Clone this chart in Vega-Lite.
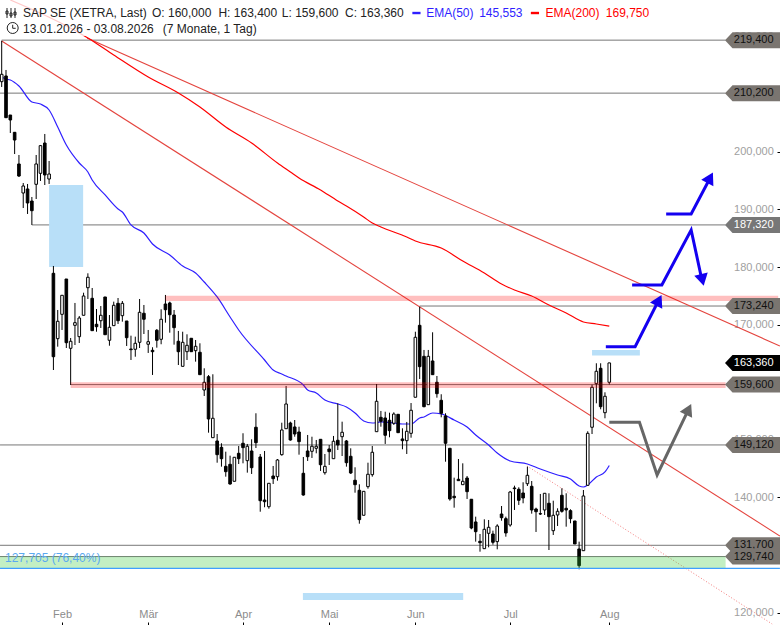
{
"$schema":"https://vega.github.io/schema/vega-lite/v6.json",
"autosize":{"type":"none"},"padding":0,"width":780,"height":625,"background":"#ffffff",
"config":{"view":{"stroke":null},"font":"Liberation Sans","text":{"font":"Liberation Sans"}},
"datasets":{
"candles":[
{"i":0,"o":212.19,"h":219.30,"l":211.27,"c":213.47},{"i":1,"o":213.18,"h":214.22,"l":205.88,"c":205.94},{"i":2,"o":206.40,"h":206.40,"l":203.28,"c":205.54},{"i":3,"o":203.40,"h":203.45,"l":199.63,"c":202.06},{"i":4,"o":197.90,"h":199.46,"l":195.64,"c":195.81},{"i":5,"o":192.86,"h":194.60,"l":190.26,"c":194.08},{"i":6,"o":193.56,"h":194.43,"l":189.22,"c":191.13},{"i":7,"o":191.47,"h":192.17,"l":187.31,"c":189.79},{"i":8,"o":194.37,"h":199.46,"l":191.82,"c":197.90},{"i":9,"o":196.28,"h":201.20,"l":194.95,"c":201.08},
{"i":10,"o":201.54,"h":203.11,"l":194.25,"c":195.99},{"i":11,"o":195.29,"h":198.42,"l":194.43,"c":196.16},{"i":12,"o":178.92,"h":180.19,"l":162.13,"c":164.44},{"i":13,"o":167.57,"h":172.55,"l":166.18,"c":170.59},{"i":14,"o":171.80,"h":175.16,"l":169.08,"c":175.10},{"i":15,"o":177.93,"h":177.93,"l":165.95,"c":166.87},{"i":16,"o":165.90,"h":167.69,"l":159.53,"c":167.12},{"i":17,"o":169.89,"h":173.77,"l":166.47,"c":170.35},{"i":18,"o":167.92,"h":171.51,"l":166.82,"c":171.16},{"i":19,"o":171.63,"h":175.55,"l":171.63,"c":174.98},
{"i":20,"o":176.42,"h":178.92,"l":174.46,"c":178.23},{"i":21,"o":174.58,"h":176.37,"l":168.96,"c":168.96},{"i":22,"o":170.07,"h":172.72,"l":168.78,"c":169.65},{"i":23,"o":170.69,"h":173.24,"l":169.43,"c":171.63},{"i":24,"o":174.81,"h":174.81,"l":168.26,"c":168.26},{"i":25,"o":167.29,"h":171.68,"l":166.35,"c":169.55},{"i":26,"o":169.83,"h":174.00,"l":169.83,"c":173.37},{"i":27,"o":173.71,"h":174.63,"l":170.12,"c":170.69},{"i":28,"o":171.56,"h":174.11,"l":170.52,"c":173.71},{"i":29,"o":170.64,"h":170.64,"l":166.30,"c":167.74},
{"i":30,"o":165.78,"h":168.09,"l":163.87,"c":165.66},{"i":31,"o":165.73,"h":167.92,"l":164.44,"c":166.77},{"i":32,"o":166.94,"h":174.46,"l":165.95,"c":172.15},{"i":33,"o":171.98,"h":173.42,"l":168.38,"c":170.94},{"i":34,"o":166.60,"h":169.08,"l":165.09,"c":167.05},{"i":35,"o":165.55,"h":166.08,"l":161.27,"c":165.31},{"i":36,"o":169.03,"h":169.25,"l":166.01,"c":167.29},{"i":37,"o":167.46,"h":172.67,"l":166.60,"c":170.94},{"i":38,"o":173.59,"h":175.16,"l":170.35,"c":172.60},{"i":39,"o":173.77,"h":174.00,"l":168.61,"c":171.73},
{"i":40,"o":171.68,"h":172.55,"l":166.53,"c":169.48},{"i":41,"o":167.12,"h":168.91,"l":163.00,"c":165.31},{"i":42,"o":162.77,"h":168.78,"l":162.77,"c":166.94},{"i":43,"o":165.31,"h":168.33,"l":163.87,"c":166.42},{"i":44,"o":167.64,"h":167.64,"l":165.31,"c":165.31},{"i":45,"o":165.49,"h":167.34,"l":163.58,"c":166.25},{"i":46,"o":165.21,"h":166.77,"l":161.32,"c":161.32},{"i":47,"o":158.66,"h":162.43,"l":157.62,"c":160.00},{"i":48,"o":160.97,"h":161.26,"l":151.25,"c":153.63},{"i":49,"o":150.38,"h":161.39,"l":150.38,"c":153.75},
{"i":50,"o":149.81,"h":151.02,"l":146.04,"c":147.43},{"i":51,"o":148.71,"h":149.41,"l":145.35,"c":146.73},{"i":52,"o":145.41,"h":147.95,"l":143.61,"c":144.48},{"i":53,"o":145.76,"h":147.26,"l":142.22,"c":142.34},{"i":54,"o":142.81,"h":147.03,"l":142.81,"c":146.98},{"i":55,"o":147.67,"h":148.94,"l":145.81,"c":146.73},{"i":56,"o":149.41,"h":151.15,"l":145.93,"c":148.65},{"i":57,"o":146.39,"h":149.29,"l":144.31,"c":148.89},{"i":58,"o":148.07,"h":150.10,"l":144.08,"c":145.17},{"i":59,"o":152.19,"h":154.62,"l":148.59,"c":149.51},
{"i":60,"o":147.03,"h":147.55,"l":137.53,"c":139.44},{"i":61,"o":139.56,"h":148.07,"l":138.30,"c":139.27},{"i":62,"o":138.40,"h":142.46,"l":138.05,"c":142.46},{"i":63,"o":143.73,"h":145.47,"l":142.34,"c":143.26},{"i":64,"o":143.61,"h":146.68,"l":142.92,"c":146.51},{"i":65,"o":147.43,"h":152.98,"l":147.26,"c":151.72},{"i":66,"o":151.94,"h":159.36,"l":151.94,"c":156.23},{"i":67,"o":152.93,"h":153.16,"l":149.86,"c":149.98},{"i":68,"o":152.24,"h":153.45,"l":150.55,"c":151.02},{"i":69,"o":151.37,"h":152.29,"l":147.43,"c":149.69},
{"i":70,"o":144.20,"h":147.03,"l":140.31,"c":140.43},{"i":71,"o":148.07,"h":150.85,"l":146.34,"c":147.08},{"i":72,"o":148.02,"h":150.55,"l":146.86,"c":148.89},{"i":73,"o":148.54,"h":149.98,"l":147.67,"c":148.89},{"i":74,"o":150.10,"h":150.10,"l":144.60,"c":145.69},{"i":75,"o":144.30,"h":147.55,"l":143.96,"c":145.41},{"i":76,"o":148.42,"h":149.11,"l":145.64,"c":147.95},{"i":77,"o":146.73,"h":150.68,"l":146.73,"c":149.76},{"i":78,"o":149.93,"h":156.35,"l":148.24,"c":149.11},{"i":79,"o":150.55,"h":153.16,"l":147.20,"c":151.32},
{"i":80,"o":149.81,"h":149.98,"l":145.35,"c":146.04},{"i":81,"o":147.15,"h":148.54,"l":144.08,"c":144.25},{"i":82,"o":142.99,"h":145.24,"l":140.83,"c":142.22},{"i":83,"o":141.25,"h":142.29,"l":135.45,"c":136.15},{"i":84,"o":136.91,"h":141.07,"l":136.91,"c":141.07},{"i":85,"o":141.88,"h":146.04,"l":141.53,"c":144.03},{"i":86,"o":143.96,"h":148.94,"l":143.61,"c":147.85},{"i":87,"o":151.42,"h":159.70,"l":151.42,"c":156.70},{"i":88,"o":153.92,"h":155.02,"l":152.29,"c":153.23},{"i":89,"o":153.80,"h":154.89,"l":149.29,"c":150.80},
{"i":90,"o":153.40,"h":154.72,"l":150.45,"c":151.60},{"i":91,"o":152.88,"h":154.79,"l":152.59,"c":154.49},{"i":92,"o":154.44,"h":154.49,"l":151.25,"c":151.25},{"i":93,"o":150.16,"h":152.01,"l":148.37,"c":149.86},{"i":94,"o":149.86,"h":153.11,"l":147.55,"c":151.49},{"i":95,"o":151.14,"h":156.40,"l":150.38,"c":155.14},{"i":96,"o":157.40,"h":168.78,"l":157.40,"c":167.81},{"i":97,"o":169.89,"h":173.12,"l":160.57,"c":162.71},{"i":98,"o":164.51,"h":165.61,"l":155.66,"c":155.76},{"i":99,"o":156.11,"h":165.61,"l":156.11,"c":164.51},
{"i":100,"o":163.70,"h":168.68,"l":161.32,"c":161.32},{"i":101,"o":160.00,"h":161.09,"l":157.33,"c":158.02},{"i":102,"o":156.87,"h":157.92,"l":153.92,"c":154.62},{"i":103,"o":154.15,"h":154.62,"l":146.21,"c":149.41},{"i":104,"o":148.54,"h":148.54,"l":139.44,"c":139.74},{"i":105,"o":140.21,"h":143.44,"l":138.23,"c":139.96},{"i":106,"o":143.16,"h":146.68,"l":142.92,"c":142.92},{"i":107,"o":142.22,"h":145.93,"l":142.22,"c":142.81},{"i":108,"o":143.38,"h":143.73,"l":139.74,"c":141.01},{"i":109,"o":139.69,"h":139.69,"l":134.48,"c":134.70},
{"i":110,"o":135.75,"h":136.67,"l":132.33,"c":134.06},{"i":111,"o":132.39,"h":133.66,"l":130.59,"c":132.15},{"i":112,"o":131.11,"h":136.21,"l":131.11,"c":134.48},{"i":113,"o":133.78,"h":136.09,"l":131.35,"c":134.82},{"i":114,"o":133.66,"h":134.24,"l":131.81,"c":132.22},{"i":115,"o":132.33,"h":135.35,"l":131.00,"c":135.05},{"i":116,"o":137.13,"h":138.52,"l":135.97,"c":136.49},{"i":117,"o":136.32,"h":136.67,"l":133.19,"c":133.84},{"i":118,"o":135.22,"h":141.13,"l":134.93,"c":140.95},{"i":119,"o":141.65,"h":142.05,"l":137.83,"c":141.53},
{"i":120,"o":141.42,"h":141.77,"l":138.70,"c":139.51},{"i":121,"o":140.78,"h":142.64,"l":138.99,"c":139.91},{"i":122,"o":142.39,"h":145.35,"l":141.99,"c":143.85},{"i":123,"o":141.94,"h":142.86,"l":137.19,"c":137.83},{"i":124,"o":138.00,"h":138.23,"l":134.01,"c":137.53},{"i":125,"o":137.19,"h":140.61,"l":136.96,"c":137.13},{"i":126,"o":137.83,"h":140.73,"l":136.96,"c":140.73},{"i":127,"o":139.00,"h":140.73,"l":130.88,"c":136.67},{"i":128,"o":134.23,"h":139.44,"l":133.49,"c":136.91},{"i":129,"o":136.96,"h":138.12,"l":135.05,"c":137.60},
{"i":130,"o":140.38,"h":141.60,"l":137.36,"c":137.60},{"i":131,"o":138.12,"h":140.73,"l":134.93,"c":137.83},{"i":132,"o":137.71,"h":137.95,"l":135.52,"c":136.32},{"i":133,"o":135.92,"h":135.92,"l":131.93,"c":131.93},{"i":134,"o":131.06,"h":132.33,"l":127.53,"c":128.16},{"i":135,"o":130.76,"h":141.30,"l":130.76,"c":140.26},{"i":136,"o":142.12,"h":151.49,"l":142.12,"c":151.14},{"i":137,"o":152.19,"h":159.58,"l":151.02,"c":159.13},{"i":138,"o":159.76,"h":163.30,"l":156.35,"c":161.91},{"i":139,"o":162.43,"h":163.30,"l":155.31,"c":155.76},
{"i":140,"o":154.72,"h":158.26,"l":153.75,"c":157.57},{"i":141,"o":160.00,"h":163.40,"l":159.60,"c":163.36}
],
"ema":[
{"s":"EMA(50)","i":0,"v":213.0},{"s":"EMA(50)","i":1,"v":212.65},{"s":"EMA(50)","i":2,"v":212.48},{"s":"EMA(50)","i":4,"v":211.44},{"s":"EMA(50)","i":7,"v":208.66},{"s":"EMA(50)","i":9,"v":208.31},{"s":"EMA(50)","i":11,"v":207.27},{"s":"EMA(50)","i":13,"v":204.32},{"s":"EMA(50)","i":15,"v":201.20},{"s":"EMA(50)","i":18,"v":198.07},{"s":"EMA(50)","i":20,"v":196.51},{"s":"EMA(50)","i":21,"v":195.12},{"s":"EMA(50)","i":24,"v":192.52},{"s":"EMA(50)","i":27,"v":190.09},{"s":"EMA(50)","i":28,"v":189.56},{"s":"EMA(50)","i":30,"v":187.31},{"s":"EMA(50)","i":33,"v":185.92},{"s":"EMA(50)","i":35,"v":184.01},{"s":"EMA(50)","i":39,"v":182.10},{"s":"EMA(50)","i":42,"v":180.19},{"s":"EMA(50)","i":45,"v":178.97},{"s":"EMA(50)","i":47,"v":177.41},{"s":"EMA(50)","i":50,"v":174.81},{"s":"EMA(50)","i":53,"v":171.34},{"s":"EMA(50)","i":55,"v":169.08},{"s":"EMA(50)","i":61,"v":163.87},{"s":"EMA(50)","i":63,"v":162.13},{"s":"EMA(50)","i":65,"v":161.44},{"s":"EMA(50)","i":66,"v":161.09},{"s":"EMA(50)","i":70,"v":159.53},{"s":"EMA(50)","i":71,"v":158.66},{"s":"EMA(50)","i":73,"v":158.14},{"s":"EMA(50)","i":75,"v":156.92},{"s":"EMA(50)","i":78,"v":156.23},{"s":"EMA(50)","i":80,"v":155.71},{"s":"EMA(50)","i":82,"v":154.67},{"s":"EMA(50)","i":84,"v":153.28},{"s":"EMA(50)","i":86,"v":152.93},{"s":"EMA(50)","i":88,"v":153.11},{"s":"EMA(50)","i":91,"v":152.93},{"s":"EMA(50)","i":93,"v":152.76},{"s":"EMA(50)","i":95,"v":152.76},{"s":"EMA(50)","i":97,"v":153.80},{"s":"EMA(50)","i":98,"v":153.97},{"s":"EMA(50)","i":100,"v":154.67},{"s":"EMA(50)","i":102,"v":154.50},{"s":"EMA(50)","i":105,"v":153.45},{"s":"EMA(50)","i":108,"v":152.24},{"s":"EMA(50)","i":110,"v":150.85},{"s":"EMA(50)","i":113,"v":149.11},{"s":"EMA(50)","i":115,"v":147.72},{"s":"EMA(50)","i":118,"v":146.34},{"s":"EMA(50)","i":122,"v":145.81},{"s":"EMA(50)","i":125,"v":144.95},{"s":"EMA(50)","i":129,"v":143.91},{"s":"EMA(50)","i":132,"v":143.21},{"s":"EMA(50)","i":134,"v":141.99},{"s":"EMA(50)","i":135,"v":141.82},{"s":"EMA(50)","i":136,"v":142.17},{"s":"EMA(50)","i":138,"v":143.56},{"s":"EMA(50)","i":140,"v":144.43},{"s":"EMA(50)","i":141,"v":145.55},
{"s":"EMA(200)","i":2,"v":226.37},{"s":"EMA(200)","i":20,"v":219.77},{"s":"EMA(200)","i":26,"v":216.82},{"s":"EMA(200)","i":34,"v":213.00},{"s":"EMA(200)","i":41,"v":210.22},{"s":"EMA(200)","i":46,"v":207.79},{"s":"EMA(200)","i":52,"v":204.32},{"s":"EMA(200)","i":58,"v":201.54},{"s":"EMA(200)","i":64,"v":198.07},{"s":"EMA(200)","i":67,"v":196.51},{"s":"EMA(200)","i":69,"v":195.47},{"s":"EMA(200)","i":74,"v":193.38},{"s":"EMA(200)","i":78,"v":191.47},{"s":"EMA(200)","i":80,"v":190.61},{"s":"EMA(200)","i":84,"v":188.70},{"s":"EMA(200)","i":86,"v":187.65},{"s":"EMA(200)","i":88,"v":186.96},{"s":"EMA(200)","i":94,"v":185.22},{"s":"EMA(200)","i":96,"v":184.53},{"s":"EMA(200)","i":102,"v":183.31},{"s":"EMA(200)","i":107,"v":181.06},{"s":"EMA(200)","i":112,"v":178.97},{"s":"EMA(200)","i":116,"v":177.06},{"s":"EMA(200)","i":119,"v":176.02},{"s":"EMA(200)","i":123,"v":174.98},{"s":"EMA(200)","i":127,"v":173.42},{"s":"EMA(200)","i":131,"v":172.03},{"s":"EMA(200)","i":135,"v":170.47},{"s":"EMA(200)","i":138,"v":170.12},{"s":"EMA(200)","i":141,"v":169.75}
],
"levels":[
{"v":219.4,"i":0,"i2":168,"fx":174.24,"t":"219,400","k":"level"},
{"v":210.2,"i":-0.39,"i2":168,"fx":174.24,"t":"210,200","k":"level"},
{"v":187.32,"i":7,"i2":168,"fx":174.24,"t":"187,320","k":"mid"},
{"v":173.24,"i":97,"i2":168,"fx":174.24,"t":"173,240","k":"level"},
{"v":159.6,"i":16,"i2":168,"fx":174.24,"t":"159,600","k":"level"},
{"v":149.12,"i":-0.39,"i2":168,"fx":174.24,"t":"149,120","k":"level"},
{"v":131.7,"i":-0.39,"i2":168,"fx":174.24,"t":"131,700","k":"level"}
],
"arrowLines":[
{"a":"b1","i":140.2,"v":166.18},{"a":"b1","i":147,"v":166.18},{"a":"b1","i":152.5,"v":174.29},
{"a":"b2","i":146.3,"v":176.89},{"a":"b2","i":153.2,"v":176.89},{"a":"b2","i":160,"v":186.44},{"a":"b2","i":162.5,"v":177.76},
{"a":"b3","i":154.2,"v":189.22},{"a":"b3","i":160,"v":189.22},{"a":"b3","i":164.4,"v":195.47}
],
"header":[
{"i":4.94,"v":224.11,"t":"SAP SE (XETRA, Last)","s":"plain"},
{"i":34.88,"v":224.11,"t":"O: 160,000","s":"plain"},
{"i":50.3,"v":224.11,"t":"H: 163,400","s":"plain"},
{"i":65.0,"v":224.11,"t":"L: 159,600","s":"plain"},
{"i":79.66,"v":224.11,"t":"C: 163,360","s":"plain"},
{"i":98.5,"v":224.11,"t":"EMA(50)","s":"EMA(50)"},
{"i":110.8,"v":224.11,"t":"145,553","s":"EMA(50)"},
{"i":126.2,"v":224.11,"t":"EMA(200)","s":"EMA(200)"},
{"i":140.2,"v":224.11,"t":"169,750","s":"EMA(200)"},
{"i":4.94,"v":221.34,"t":"13.01.2026 - 03.08.2026","s":"plain"},
{"i":37.4,"v":221.34,"t":"(7 Monate, 1 Tag)","s":"plain"}
]
},
"encoding":{
"x":{"field":"i","type":"quantitative","title":null,"scale":{"domain":[-0.395,180.62],"nice":false,"zero":false,"padding":0},
 "axis":{"orient":"bottom","offset":-3,"values":[14,34,56,76,96,118,141],"labelExpr":"datum.value==14?'Feb':datum.value==34?'Mär':datum.value==56?'Apr':datum.value==76?'Mai':datum.value==96?'Jun':datum.value==118?'Jul':'Aug'","domain":false,"grid":false,"tickSize":3,"tickColor":"#000","labelPadding":-10.3,"labelBaseline":"middle","labelColor":"#8c8c8c","labelFontSize":11,"labelFont":"Liberation Sans","labelFlush":false,"labelOverlap":false,"labelBound":false}},
"y":{"field":"v","type":"quantitative","title":null,"scale":{"domain":[117.86,226.37],"nice":false,"zero":false},
 "axis":{"orient":"right","offset":-3,"values":[120,130,140,150,160,170,180,190,200,210,220],"labelExpr":"replace(format(datum.value,'.3f'),'.',',')","domain":false,"grid":false,"tickSize":3,"tickColor":"#000","labelPadding":-6.7,"labelAlign":"right","labelColor":"#a0a0a0","labelFontSize":11,"labelFont":"Liberation Sans","labelFlush":false,"labelOverlap":false,"labelBound":false}}
},
"layer":[
{"data":{"name":"levels"},"mark":{"type":"rule","color":"#777777","strokeWidth":1},"encoding":{"x2":{"field":"i2"}}},
{"data":{"values":[{"v":129.74,"i":-0.39,"i2":168}]},"mark":{"type":"rule","color":"#777777","strokeWidth":1},"encoding":{"x2":{"field":"i2"}}},
{"data":{"values":[{"id":"A","i":0,"v":219.25},{"id":"A","i":180.6,"v":133.31},{"id":"B","i":19.8,"v":219.77},{"id":"B","i":180.6,"v":166.30}]},"mark":{"type":"line","color":"#e4443e","strokeWidth":1.1},"encoding":{"detail":{"field":"id"}}},
{"data":{"values":[{"i":121.9,"v":145.47},{"i":178.8,"v":118.03}]},"mark":{"type":"line","color":"#f47d7d","strokeWidth":1,"strokeDash":[1,2]},"encoding":{}},
{"data":{"values":[{"i":11.0,"i2":18.9,"v":194.25,"v2":180.02},{"i":69.9,"i2":107.1,"v":123.42,"v2":122.2},{"i":137,"i2":148.1,"v":165.61,"v2":164.64}]},"mark":{"type":"rect","color":"#b8dff8"},"encoding":{"x2":{"field":"i2"},"y2":{"field":"v2"}}},
{"data":{"name":"ema"},"mark":{"type":"line","strokeWidth":1.2,"interpolate":"monotone"},"encoding":{"color":{"field":"s","type":"nominal","legend":null,"scale":{"domain":["EMA(50)","EMA(200)","plain"],"range":["#2f1fff","#ff0000","#222222"]}}}},
{"data":{"name":"candles"},"mark":{"type":"rule","color":"#000000","strokeWidth":1},"encoding":{"y":{"field":"h","type":"quantitative"},"y2":{"field":"l"}}},
{"data":{"name":"candles"},"mark":{"type":"bar","size":2.6,"stroke":"#000000","strokeWidth":1},"encoding":{"y":{"field":"o","type":"quantitative"},"y2":{"field":"c"},"fill":{"condition":{"test":"datum.c>=datum.o","value":"#ffffff"},"value":"#000000"}}},
{"data":{"values":[{"i":38,"i2":180.2,"v":175.03,"v2":174.11},{"i":16,"i2":168,"v":160.0,"v2":159.0}]},"mark":{"type":"rect","color":"#ff0000","opacity":0.25},"encoding":{"x2":{"field":"i2"},"y2":{"field":"v2"}}},
{"data":{"values":[{"i":-0.39,"i2":168,"v":129.74,"v2":127.705}]},"mark":{"type":"rect","color":"#37c937","opacity":0.3},"encoding":{"x2":{"field":"i2"},"y2":{"field":"v2"}}},
{"data":{"values":[{"i":-0.39,"i2":180.6,"v":127.705}]},"mark":{"type":"rule","color":"#3f9fff","strokeWidth":1.2},"encoding":{"x2":{"field":"i2"}}},
{"data":{"values":[{"i":-0.39,"i2":30,"v":226.37,"v2":220.1}]},"mark":{"type":"rect","color":"#ffffff","opacity":0.78},"encoding":{"x2":{"field":"i2"},"y2":{"field":"v2"}}},
{"data":{"values":[{"i":0.77,"v":129.55,"t":"127,705 (76,40%)"}]},"mark":{"type":"text","align":"left","baseline":"middle","fontSize":12,"color":"#5aa9f0"},"encoding":{"text":{"field":"t"}}},
{"data":{"name":"arrowLines"},"mark":{"type":"line","color":"#1400f0","strokeWidth":3,"strokeJoin":"miter","strokeCap":"butt"},"encoding":{"detail":{"field":"a"}}},
{"data":{"values":[{"i":152.5,"v":174.24,"dir":27},{"i":162.6,"v":177.76,"dir":167},{"i":164.4,"v":195.50,"dir":28}]},"mark":{"type":"point","shape":"triangle-up","filled":true,"size":190,"color":"#1400f0","opacity":1},"encoding":{"angle":{"field":"dir","type":"quantitative","scale":null}}},
{"data":{"values":[{"i":141,"v":153.05},{"i":148,"v":153.05},{"i":152.1,"v":143.90},{"i":159.4,"v":155.29}]},"mark":{"type":"line","color":"#666666","strokeWidth":3,"strokeJoin":"miter","strokeCap":"butt"},"encoding":{}},
{"data":{"values":[{"i":159.4,"v":155.29,"dir":26}]},"mark":{"type":"point","shape":"triangle-up","filled":true,"size":190,"color":"#666666","opacity":1},"encoding":{"angle":{"field":"dir","type":"quantitative","scale":null}}},
{"data":{"values":[{"i":95.3,"i2":97.2,"v":224.11,"s":"EMA(50)"},{"i":122.8,"i2":124.7,"v":224.11,"s":"EMA(200)"}]},"mark":{"type":"rule","strokeWidth":2.4},"encoding":{"x2":{"field":"i2"},"color":{"field":"s","type":"nominal","legend":null}}},
{"data":{"name":"header"},"mark":{"type":"text","align":"left","baseline":"middle","fontSize":12},"encoding":{"text":{"field":"t"},"color":{"field":"s","type":"nominal","legend":null}}},
{"data":{"values":[{"i":2.16,"v":224.11}]},"mark":{"type":"point","shape":"M-4,-5V5M0,-5V5M4,-5V5M-5,-2h2v3h-2zM-1,0h2v3h-2zM3,-1h2v3h-2z","size":4,"filled":false,"stroke":"#222222","strokeWidth":1,"opacity":1},"encoding":{}},
{"data":{"values":[{"i":2.55,"v":221.51}]},"mark":{"type":"point","shape":"M-5.5,0A5.5,5.5 0 1,1 5.5,0A5.5,5.5 0 1,1 -5.5,0ZM0,-3.2V0.3H3","size":4,"filled":false,"stroke":"#222222","strokeWidth":1,"opacity":1},"encoding":{}},
{"data":{"name":"levels"},"mark":{"type":"point","shape":"M-27.5,0L-20,-8L27.5,-8L27.5,8L-20,8Z","size":4,"filled":true,"opacity":1},"encoding":{"x":{"field":"fx","type":"quantitative"},"fill":{"condition":{"test":"datum.k=='mid'","value":"#777777"},"value":"#7a7570"}}},
{"data":{"name":"levels"},"mark":{"type":"text","dx":1.2,"align":"center","baseline":"middle","fontSize":11},"encoding":{"x":{"field":"fx","type":"quantitative"},"text":{"field":"t"},"color":{"condition":{"test":"datum.k=='mid'","value":"#ffffff"},"value":"#111111"}}},
{"data":{"values":[{"i":174.24,"v":129.74,"t":"129,740"}]},"mark":{"type":"point","shape":"M-27.5,0L-20,-8L27.5,-8L27.5,8L-20,8Z","size":4,"filled":true,"opacity":1,"color":"#7a7570"},"encoding":{}},
{"data":{"values":[{"i":174.24,"v":129.74,"t":"129,740"}]},"mark":{"type":"text","dx":1.2,"align":"center","baseline":"middle","fontSize":11,"color":"#111111"},"encoding":{"text":{"field":"t"}}},
{"data":{"values":[{"i":174.24,"v":163.36,"t":"163,360"}]},"mark":{"type":"point","shape":"M-27.5,0L-20,-8L27.5,-8L27.5,8L-20,8Z","size":4,"filled":true,"opacity":1,"color":"#000000"},"encoding":{}},
{"data":{"values":[{"i":174.24,"v":163.36,"t":"163,360"}]},"mark":{"type":"text","dx":1.2,"align":"center","baseline":"middle","fontSize":11,"color":"#ffffff"},"encoding":{"text":{"field":"t"}}}
]
}
